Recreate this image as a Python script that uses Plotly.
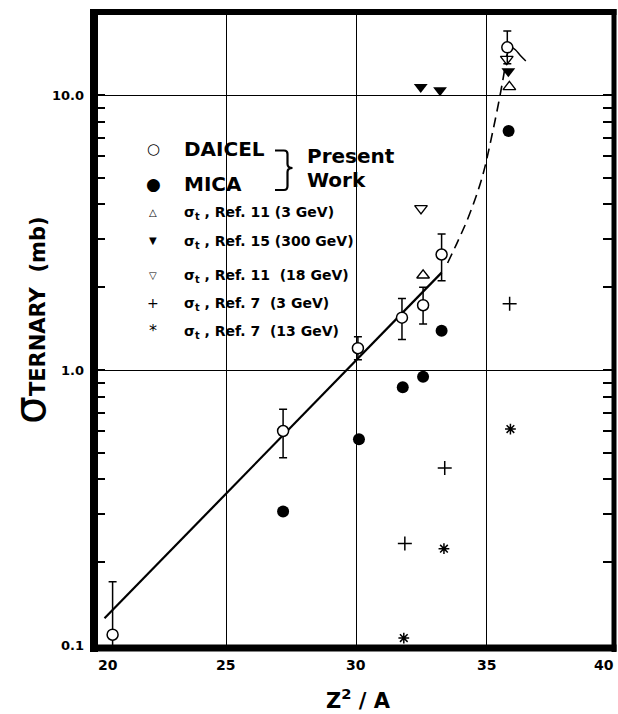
import math
import plotly.graph_objects as go

# ---------------- data ----------------
daicel_x = [20.65, 27.19, 30.06, 31.75, 32.56, 33.27, 35.79]
daicel_y = [0.109, 0.60, 1.20, 1.55, 1.72, 2.63, 14.9]
daicel_hi = [0.17, 0.72, 1.32, 1.82, 2.00, 3.12, 17.1]
daicel_lo = [0.097, 0.48, 1.09, 1.29, 1.47, 2.11, 13.0]

mica_x = [27.19, 30.10, 31.78, 32.56, 33.27, 35.84]
mica_y = [0.306, 0.56, 0.865, 0.945, 1.39, 7.4]

ref11_3_x = [32.56, 35.87]
ref11_3_y = [2.21, 10.7]

ref15_300_x = [32.47, 33.21, 35.83]
ref15_300_y = [10.7, 10.4, 12.2]

ref11_18_x = [32.48, 35.77]
ref11_18_y = [3.87, 13.5]

ref7_3_x = [31.86, 33.39, 35.88]
ref7_3_y = [0.234, 0.44, 1.74]

ref7_13_x = [31.82, 33.36, 35.91]
ref7_13_y = [0.106, 0.224, 0.61]

fit_x = [20.34, 33.27]
fit_y = [0.125, 2.26]

dash_x = [33.50, 33.90, 34.30, 34.82, 35.23, 35.61, 35.80]
dash_y = [2.45, 2.95, 3.60, 5.0, 7.35, 11.2, 14.6]

tail_x = [35.92, 36.10, 36.30, 36.50]
tail_y = [15.0, 14.6, 13.9, 13.3]

x_tick_vals = [20, 25, 30, 35, 40]
x_tick_text = ["20", "25", "30", "35", "40"]
y_tick_vals = [10, 1, 0.1]
y_tick_text = ["10.0", "1.0", "0.1"]
y_minor = [0.2, 0.3, 0.4, 0.5, 0.6, 0.7, 0.8, 0.9, 2, 3, 4, 5, 6, 7, 8, 9]

legend_big = ["DAICEL", "MICA"]
legend_small = [
    "σ<sub>t</sub> , Ref. 11 (3 GeV)",
    "σ<sub>t</sub> , Ref. 15 (300 GeV)",
    "σ<sub>t</sub> , Ref. 11 \u00a0(18 GeV)",
    "σ<sub>t</sub> , Ref. 7 \u00a0(3 GeV)",
    "σ<sub>t</sub> , Ref. 7 \u00a0(13 GeV)",
]
legend_glyphs = ["○", "●", "△", "▼", "▽", "+", "*"]

# ---------------- layout geometry ----------------
W, H = 618, 714
L, R, T, B = 94, 614, 12, 648
PW, PH = R - L, B - T
FONT = "DejaVu Sans"
X_UNIT = 26.07          # pixels per x unit
X0 = 25 - (226 - L) / X_UNIT
X1 = 35 + (R - 486.7) / X_UNIT
YLOG0 = 1 - (B - 95) / 275
YLOG1 = 1 + (95 - T) / 275


def px(xp):
    return (xp - L) / PW


def py(yp):
    return (B - yp) / PH


def xpaper(v):
    return (v - X0) / (X1 - X0)


fig = go.Figure()

# fitted lines
fig.add_trace(go.Scatter(x=fit_x, y=fit_y, mode="lines",
                         line=dict(color="black", width=2.2), hoverinfo="skip"))
fig.add_trace(go.Scatter(x=dash_x, y=dash_y, mode="lines",
                         line=dict(color="black", width=1.6, dash="10px,6px"),
                         line_shape="spline", hoverinfo="skip"))
fig.add_trace(go.Scatter(x=tail_x, y=tail_y, mode="lines",
                         line=dict(color="black", width=1.5),
                         line_shape="spline", hoverinfo="skip"))

# data markers
fig.add_trace(go.Scatter(x=mica_x, y=mica_y, mode="markers",
                         marker=dict(symbol="circle", size=12, color="black")))
fig.add_trace(go.Scatter(x=ref15_300_x, y=ref15_300_y, mode="markers",
                         marker=dict(symbol="triangle-down", size=12, color="black")))
fig.add_trace(go.Scatter(x=ref11_3_x, y=ref11_3_y, mode="markers",
                         marker=dict(symbol="triangle-up", size=11, color="white",
                                     line=dict(color="black", width=1.4))))
fig.add_trace(go.Scatter(x=ref11_18_x, y=ref11_18_y, mode="markers",
                         marker=dict(symbol="triangle-down", size=11, color="white",
                                     line=dict(color="black", width=1.4))))
fig.add_trace(go.Scatter(x=ref7_3_x, y=ref7_3_y, mode="markers",
                         marker=dict(symbol="cross-thin", size=10,
                                     line=dict(color="black", width=1.5))))
fig.add_trace(go.Scatter(x=ref7_13_x, y=ref7_13_y, mode="markers",
                         marker=dict(symbol="asterisk", size=9,
                                     line=dict(color="black", width=1.5))))
fig.add_trace(go.Scatter(
    x=daicel_x, y=daicel_y, mode="markers",
    marker=dict(symbol="circle", size=11, color="white",
                line=dict(color="black", width=1.5)),
    error_y=dict(type="data", symmetric=False,
                 array=[h - v for h, v in zip(daicel_hi, daicel_y)],
                 arrayminus=[v - l for l, v in zip(daicel_lo, daicel_y)],
                 color="black", thickness=1.5, width=4)))

shapes = []
# white box behind the legend (hides grid lines)
shapes.append(dict(type="rect", xref="paper", yref="paper",
                   x0=px(135), x1=px(402), y0=py(345), y1=py(120),
                   fillcolor="white", line=dict(width=0), layer="between"))
# thick frame
shapes.append(dict(type="line", xref="paper", yref="paper", x0=0, x1=0,
                   y0=py(B + 4), y1=py(T - 3), line=dict(color="black", width=8)))
shapes.append(dict(type="line", xref="paper", yref="paper", x0=1, x1=1,
                   y0=py(B + 4), y1=py(T - 3), line=dict(color="black", width=5)))
shapes.append(dict(type="line", xref="paper", yref="paper", x0=px(L - 4), x1=px(R + 2.5),
                   y0=1, y1=1, line=dict(color="black", width=6)))
shapes.append(dict(type="line", xref="paper", yref="paper", x0=px(L - 4), x1=px(R + 2.5),
                   y0=0, y1=0, line=dict(color="black", width=7)))
# brace "}"
brace = (f"M {px(275)},{py(150.5)} L {px(284)},{py(150.5)} "
         f"Q {px(287.5)},{py(150.5)} {px(287.5)},{py(154)} "
         f"L {px(287.5)},{py(164)} Q {px(287.5)},{py(168)} {px(292.5)},{py(168)} "
         f"Q {px(287.5)},{py(168)} {px(287.5)},{py(172)} "
         f"L {px(287.5)},{py(186)} Q {px(287.5)},{py(190)} {px(284)},{py(190)} "
         f"L {px(275)},{py(190)}")
shapes.append(dict(type="path", xref="paper", yref="paper", path=brace,
                   line=dict(color="black", width=2.2)))

ann = []
# x tick labels
for v, t in zip(x_tick_vals, x_tick_text):
    anchor = "left" if v == x_tick_vals[0] else ("right" if v == x_tick_vals[-1] else "center")
    ann.append(dict(x=min(xpaper(v), 1.004), y=0, xref="paper", yref="paper", text=t,
                    showarrow=False, xanchor=anchor, yanchor="top", yshift=-7,
                    font=dict(family=FONT, size=14, color="black", weight="bold")))
# y tick labels
for v, t in zip(y_tick_vals, y_tick_text):
    ann.append(dict(x=0, y=math.log10(v), xref="paper", yref="y", text=t, showarrow=False,
                    xanchor="right", yanchor="middle", xshift=-8,
                    font=dict(family=FONT, size=13, color="black", weight="bold")))
# axis titles
ann.append(dict(x=px(358), y=py(699), xref="paper", yref="paper",
                text="Z<sup>2</sup> / A", showarrow=False,
                xanchor="center", yanchor="middle",
                font=dict(family=FONT, size=21, color="black", weight="bold")))
ann.append(dict(x=px(29), y=py(320), xref="paper", yref="paper",
                text="<span style='font-size:44px;font-weight:normal'>σ</span>TERNARY\u00a0\u00a0(mb)",
                textangle=-90, showarrow=False, xanchor="center", yanchor="middle",
                font=dict(family=FONT, size=21, color="black", weight="bold")))
# legend
sym_y = [148.5, 184, 212.5, 241, 275, 302.5, 330.5]
sym_size = [15, 17, 10, 10, 10, 14, 16]
for g, yy, s in zip(legend_glyphs, sym_y, sym_size):
    ann.append(dict(x=px(153), y=py(yy), xref="paper", yref="paper", text=g,
                    showarrow=False, xanchor="center", yanchor="middle",
                    font=dict(family=FONT, size=s, color="black")))
for t, yy in zip(legend_big, [148.5, 184]):
    ann.append(dict(x=px(182), y=py(yy), xref="paper", yref="paper", text=t,
                    showarrow=False, xanchor="left", yanchor="middle",
                    font=dict(family=FONT, size=20, color="black", weight="bold")))
for t, yy in zip(["Present", "Work"], [156, 180]):
    ann.append(dict(x=px(305), y=py(yy), xref="paper", yref="paper", text=t,
                    showarrow=False, xanchor="left", yanchor="middle",
                    font=dict(family=FONT, size=20, color="black", weight="bold")))
for t, yy in zip(legend_small, [213, 242, 275.5, 304, 332]):
    ann.append(dict(x=px(182), y=py(yy), xref="paper", yref="paper", text=t,
                    showarrow=False, xanchor="left", yanchor="middle",
                    font=dict(family=FONT, size=14, color="black", weight="bold")))

fig.update_layout(
    width=W, height=H, showlegend=False,
    margin=dict(l=L, r=W - R, t=T, b=H - B, pad=0),
    paper_bgcolor="white", plot_bgcolor="white",
    shapes=shapes, annotations=ann,
    xaxis=dict(range=[X0, X1], tickvals=[25, 30, 35], showticklabels=False,
               ticks="", showgrid=True, gridcolor="black", gridwidth=1.3,
               zeroline=False, showline=False),
    yaxis=dict(type="log", range=[YLOG0, YLOG1], tickvals=[1, 10],
               showticklabels=False, ticks="inside", ticklen=11, tickwidth=1.5,
               tickcolor="black", showgrid=True, gridcolor="black", gridwidth=1.3,
               zeroline=False, showline=True, linecolor="black", linewidth=1,
               mirror="ticks",
               minor=dict(tickvals=y_minor, ticks="inside", ticklen=11,
                          tickwidth=1.5, tickcolor="black", showgrid=False)),
)

fig.write_html("out.html")
